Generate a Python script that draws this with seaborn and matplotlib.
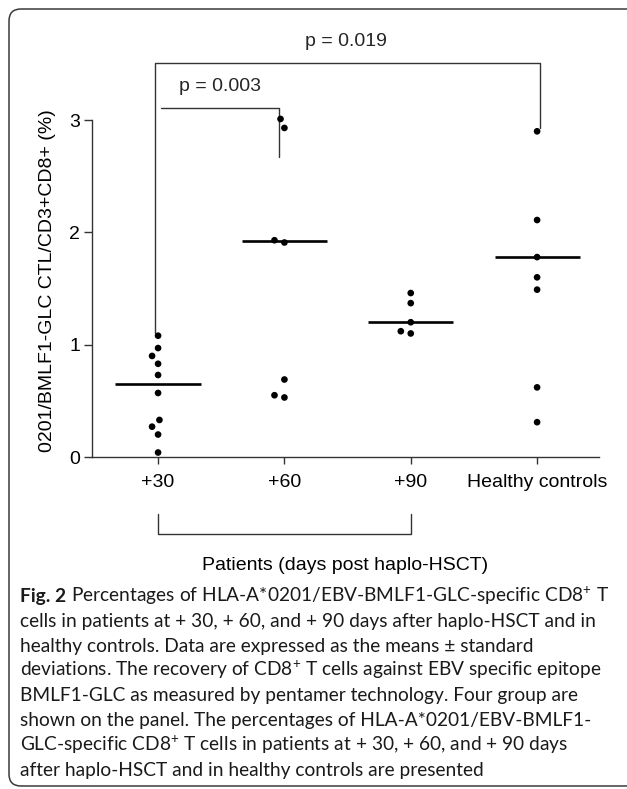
import matplotlib
matplotlib.use("Agg")
import matplotlib.pyplot as plt
import matplotlib.transforms as mtransforms
from matplotlib.patches import FancyBboxPatch
import numpy as np
import pandas as pd
import seaborn as sns

# ---------------- data ----------------
groups = ["+30", "+60", "+90", "Healthy controls"]
values_d30 = [1.08, 0.97, 0.90, 0.83, 0.73, 0.57, 0.33, 0.27, 0.20, 0.04]
values_d60 = [3.01, 2.93, 1.93, 1.91, 0.69, 0.55, 0.53]
values_d90 = [1.46, 1.37, 1.20, 1.12, 1.10]
values_hc = [2.90, 2.11, 1.78, 1.60, 1.49, 0.62, 0.31]
center_lines = [0.65, 1.92, 1.20, 1.78]
y_ticks = [0, 1, 2, 3]
y_label = "0201/BMLF1-GLC CTL/CD3+CD8+ (%)"
x_label = "Patients (days post haplo-HSCT)"
p_small = "p = 0.003"
p_large = "p = 0.019"
caption_bold = "Fig. 2"
caption_lines = [
    "Percentages of HLA-A*0201/EBV-BMLF1-GLC-specific CD8$^{+}$ T",
    "cells in patients at + 30, + 60, and + 90 days after haplo-HSCT and in",
    "healthy controls. Data are expressed as the means \u00b1 standard",
    "deviations. The recovery of CD8$^{+}$ T cells against EBV specific epitope",
    "BMLF1-GLC as measured by pentamer technology. Four group are",
    "shown on the panel. The percentages of HLA-A*0201/EBV-BMLF1-",
    "GLC-specific CD8$^{+}$ T cells in patients at + 30, + 60, and + 90 days",
    "after haplo-HSCT and in healthy controls are presented",
]

# ---------------- style ----------------
sns.set_style("ticks")
plt.rcParams["font.family"] = ["Liberation Sans", "DejaVu Sans"]
plt.rcParams["mathtext.fontset"] = "custom"
plt.rcParams["mathtext.rm"] = "Lato"
plt.rcParams["mathtext.default"] = "regular"

W, H = 627, 789
fig = plt.figure(figsize=(W / 100, H / 100), dpi=100)
fig.patch.set_facecolor("white")

ax = fig.add_axes([92 / W, 1 - 457 / H, (599 - 92) / W, (457 - 30) / H])
ax.set_facecolor("none")

all_vals = [values_d30, values_d60, values_d90, values_hc]
df = pd.DataFrame({
    "group": np.repeat(groups, [len(v) for v in all_vals]),
    "value": np.concatenate(all_vals),
})

line_col = "#333333"

sns.swarmplot(data=df, x="group", y="value", order=groups, color="black",
              size=4.8, linewidth=2.2, edgecolor="none", ax=ax, zorder=3)

pos = np.arange(len(groups))
ax.hlines(center_lines, pos - 0.337, pos + 0.337, colors="black", lw=1.9, zorder=4)

ax.set_xlim(-0.523, 3.49)
ax.set_ylim(0, 3.802)
ax.set_yticks(y_ticks)

for s in ["top", "right"]:
    ax.spines[s].set_visible(False)
for s in ["left", "bottom"]:
    ax.spines[s].set_linewidth(1.0)
    ax.spines[s].set_color(line_col)
ax.spines["left"].set_bounds(0, 3)

ax.tick_params(axis="x", length=5, width=1.0, pad=7, labelsize=14, color=line_col, labelcolor="black")
ax.tick_params(axis="y", length=6, width=1.0, pad=2.5, labelsize=14, color=line_col, labelcolor="black")

ax.set_ylabel(y_label, fontsize=14, color="black")
ax.yaxis.set_label_coords((56 - 92) / 507, (457 - 281) / 427)
ax.set_xlabel(x_label, fontsize=14, color="black", va="top")
ax.xaxis.set_label_coords(0.5, (457 - 557) / 427)

# significance brackets
ax.plot([-0.024, -0.024, 3.02, 3.02], [1.10, 3.508, 3.508, 2.93],
        color=line_col, lw=1.0, clip_on=False)
ax.plot([0.024, 0.96, 0.96], [3.11, 3.11, 2.67],
        color=line_col, lw=1.0, clip_on=False)
ax.text(1.49, 3.70, p_large, ha="center", va="center", fontsize=14)
ax.text(0.49, 3.295, p_small, ha="center", va="center", fontsize=14)

# patients bracket under axis
ax.plot([0, 0, 2, 2], [-0.508, -0.686, -0.686, -0.508],
        color=line_col, lw=1.0, clip_on=False)

# ---------------- frame ----------------
frame = FancyBboxPatch((9, 3), 635, 777,
                       boxstyle="round,pad=0,rounding_size=12",
                       transform=mtransforms.IdentityTransform(),
                       fill=False, edgecolor="#3a3a3a", lw=1.1)
fig.add_artist(frame)

# ---------------- caption ----------------
renderer = fig.canvas.get_renderer()
cap_family = ["Lato", "DejaVu Sans"]
probe = fig.text(0, 0, caption_lines[3], fontsize=10, family=cap_family)
w10 = probe.get_window_extent(renderer).width
probe.remove()
cap_size = 10 * 582 / w10

x0 = 20
base0 = 602
step = 24.8
cap_col = "#1a1a1a"
tb = fig.text(x0 / W, 1 - base0 / H, caption_bold + " ", fontsize=cap_size,
              family=cap_family, fontweight="bold", va="baseline", color=cap_col)
bw = tb.get_window_extent(renderer).width
fig.text((x0 + bw) / W, 1 - base0 / H, caption_lines[0], fontsize=cap_size,
         family=cap_family, va="baseline", color=cap_col)
for i, line in enumerate(caption_lines[1:], start=1):
    fig.text(x0 / W, 1 - (base0 + i * step) / H, line, fontsize=cap_size,
             family=cap_family, va="baseline", color=cap_col)

fig.savefig("out.png", dpi=100, facecolor="white")
